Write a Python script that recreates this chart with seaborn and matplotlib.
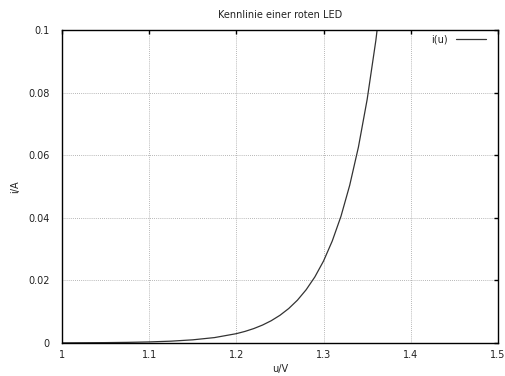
#!/usr/bin/env python3
"""
Kennlinie einer roten LED - gnuplot-style I/U curve redrawn with seaborn.
"""

import matplotlib

matplotlib.use("Agg")
import matplotlib.pyplot as plt
import pandas as pd
import seaborn as sns

# values
voltage = [1.00, 1.05, 1.075, 1.10, 1.125, 1.15, 1.175, 1.20, 1.21, 1.22, 1.23, 1.24,
           1.25, 1.26, 1.27, 1.28, 1.29, 1.30, 1.31, 1.32, 1.33, 1.34, 1.35, 1.36, 1.37]
current = [0.00004, 0.00012, 0.00020, 0.00034, 0.00058, 0.00101, 0.00173, 0.00298,
           0.00371, 0.00461, 0.00573, 0.00712, 0.00885, 0.0110, 0.01367, 0.0170,
           0.0211, 0.0262, 0.0326, 0.0405, 0.0504, 0.0626, 0.0778, 0.0967, 0.120]

x_ticks = [1.0, 1.1, 1.2, 1.3, 1.4, 1.5]
x_labels = ["1", "1.1", "1.2", "1.3", "1.4", "1.5"]
y_ticks = [0.0, 0.02, 0.04, 0.06, 0.08, 0.1]
y_labels = ["0", "0.02", "0.04", "0.06", "0.08", "0.1"]

sns.set_theme(style="white")
plt.rcParams["font.family"] = ["DejaVu Sans"]

df = pd.DataFrame({"u": voltage, "i": current})

fig = plt.figure(figsize=(5.06, 3.76), dpi=100)
ax = fig.add_axes([0.1225, 0.0878, 0.8615, 0.832])

sns.lineplot(data=df, x="u", y="i", ax=ax, color="#333333", linewidth=0.9,
             label="i(u)", sort=False)

ax.set_xlim(1.0, 1.5)
ax.set_ylim(0.0, 0.1)
ax.set_xticks(x_ticks)
ax.set_xticklabels(x_labels)
ax.set_yticks(y_ticks)
ax.set_yticklabels(y_labels)

ax.grid(True, color="#a0a0a0", linestyle=(0, (1, 1.5)), linewidth=0.6)
ax.tick_params(direction="in", length=3, width=1, colors="black", labelcolor="#222222",
               labelsize=7, top=True, right=True)
ax.tick_params(axis="y", pad=9)
ax.tick_params(axis="x", pad=5)
for sp in ax.spines.values():
    sp.set_color("black")
    sp.set_linewidth(1.0)

ax.set_xlabel("u/V", fontsize=7, labelpad=3, color="#222222")
ax.set_ylabel("i/A", fontsize=7, labelpad=6, color="#222222")
ax.set_title("Kennlinie einer roten LED", fontsize=7, pad=9, color="#222222")

leg = ax.legend(loc="upper right", bbox_to_anchor=(0.982, 1.0), frameon=False,
                markerfirst=False, fontsize=7, handlelength=3.1, handletextpad=0.9,
                borderaxespad=0.0, labelcolor="#222222")

fig.savefig("out.png", dpi=100)
plt.close(fig)
